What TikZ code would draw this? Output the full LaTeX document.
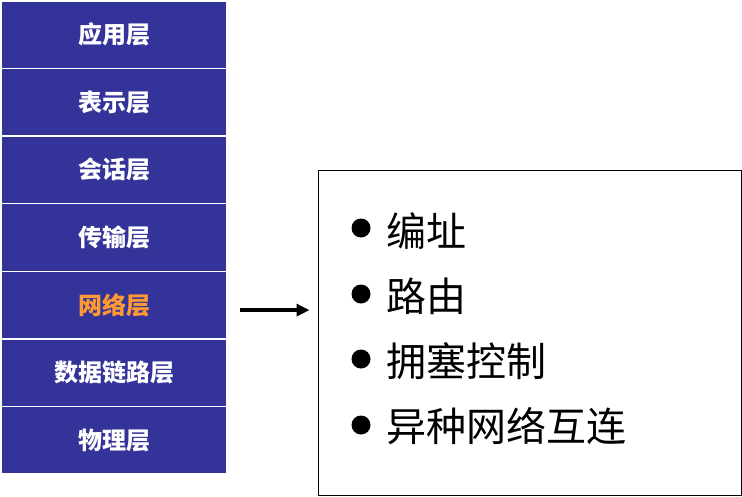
\documentclass[tikz,border=0pt]{standalone}
\usepackage{fontspec}
\newfontfamily\cjk{Noto Sans CJK SC}
\usetikzlibrary{arrows.meta}
\definecolor{layerblue}{HTML}{333399}
\definecolor{layerorange}{HTML}{FF9933}
\tikzset{
  cell/.style={rectangle, fill=layerblue, draw=white, line width=1.5pt, minimum width=226pt, minimum height=67.57pt, inner sep=0pt, text=white, font=\cjk\bfseries\fontsize{24}{28}\selectfont},
  listbox/.style={rectangle, draw=black, line width=1pt, minimum width=423pt, minimum height=325pt, inner sep=0pt},
  item/.style={anchor=west, inner sep=0pt, font=\cjk\fontsize{40}{46}\selectfont},
  dot/.style={circle, fill=black, minimum size=19pt, inner sep=0pt},
  bigarrow/.style={line width=4pt, -{Triangle[length=13pt,width=12pt]}}
}
\begin{document}
\begin{tikzpicture}[x=1pt,y=-1pt]
\useasboundingbox (0,0) rectangle (742,496);
\node[cell] (l1) at (114,34.8) {应用层};
\node[cell] (l2) at (114,102.4) {表示层};
\node[cell] (l3) at (114,169.9) {会话层};
\node[cell] (l4) at (114,237.5) {传输层};
\node[cell, text=layerorange] (l5) at (114,305.1) {网络层};
\node[cell] (l6) at (114,372.6) {数据链路层};
\node[cell] (l7) at (114,440.2) {物理层};
\node[listbox] (box) at (529.5,332.5) {};
\node[dot] (b1) at (361,228) {};
\node[item] (t1) at (386,231) {编址};
\node[dot] (b2) at (361,294) {};
\node[item] (t2) at (386,296) {路由};
\node[dot] (b3) at (361,359) {};
\node[item] (t3) at (386,361) {拥塞控制};
\node[dot] (b4) at (361,425) {};
\node[item] (t4) at (386,426) {异种网络互连};
\draw[bigarrow, shorten <=12pt, shorten >=8pt] ([yshift=-5pt]l5.east) -- ([yshift=-5pt]l5.east -| box.west);
\end{tikzpicture}
\end{document}
